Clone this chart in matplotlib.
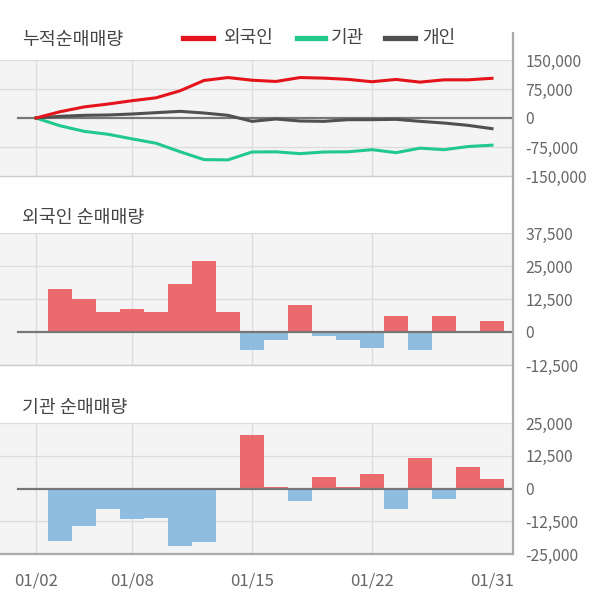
import matplotlib
matplotlib.use("Agg")
import matplotlib.pyplot as plt
from matplotlib.lines import Line2D
import numpy as np

plt.rcParams['font.family'] = ['Noto Sans CJK KR', 'DejaVu Sans']

dates = ['01/02', '01/03', '01/06', '01/07', '01/08', '01/09', '01/10', '01/13', '01/14', '01/15',
         '01/16', '01/17', '01/20', '01/21', '01/22', '01/23', '01/28', '01/29', '01/30', '01/31']
foreign = [0, 16200, 12400, 7500, 8600, 7500, 18100, 26800, 7500, -6900,
           -3200, 10100, -1500, -3200, -6100, 5900, -6900, 5900, 0, 4000]
institution = [0, -20100, -14300, -7700, -11800, -11300, -22000, -20400, -700, 20400,
               400, -4700, 4300, 500, 5500, -7700, 11600, -4000, 8200, 3600]
individual_cum = [0, 4300, 6900, 7800, 10300, 13800, 17200, 12900, 6900, -8600,
                  -2600, -7800, -8600, -4300, -4300, -3400, -8600, -13000, -19000, -27600]
tick_labels = ['01/02', '01/08', '01/15', '01/22', '01/31']
legend_names = ['외국인', '기관', '개인']

RED_LINE = '#e3141c'
GREEN_LINE = '#22c98c'
GRAY_LINE = '#505050'
RED_BAR = '#ea6a6e'
BLUE_BAR = '#8fbde0'
BG = '#f4f4f4'
GRID = '#dcdcdc'
TXT = '#444444'
TICK = '#666666'

W, H = 600, 604
fig = plt.figure(figsize=(6.0, 6.04), dpi=100)

x = np.arange(len(dates))
xlim = (-1.5, 19.875)
tick_idx = [dates.index(t) for t in tick_labels]
grid_idx = tick_idx[:-1]


def make_ax(top_px, bot_px):
    ax = fig.add_axes([0, 1 - bot_px / H, 513 / W, (bot_px - top_px) / H])
    ax.set_facecolor(BG)
    ax.set_xlim(*xlim)
    for s in ['left', 'right', 'top']:
        ax.spines[s].set_visible(False)
    ax.spines['bottom'].set_color('#cccccc')
    ax.spines['bottom'].set_linewidth(1.0)
    ax.yaxis.tick_right()
    ax.tick_params(axis='y', length=0, pad=9, labelsize=11.3, labelcolor=TICK)
    ax.tick_params(axis='x', length=0)
    ax.set_xticks(tick_idx)
    ax.set_xticklabels([])
    for gi in grid_idx:
        ax.axvline(gi, color=GRID, lw=0.9, zorder=0)
    return ax


def fmt(v):
    return f'{int(v):,}'

# Panel 1: cumulative
ax1 = make_ax(60, 176)
yt1 = [-150000, -75000, 0, 75000, 150000]
ax1.set_ylim(-150000, 150000)
ax1.set_yticks(yt1)
ax1.set_yticklabels([fmt(v) for v in yt1])
for v in [75000, -75000, 150000]:
    ax1.axhline(v, color=GRID, lw=0.9, zorder=0, xmin=0.0)
ax1.axhline(0, color='#777777', lw=1.6, xmin=18 / 513, zorder=1)
ax1.plot(x, np.cumsum(institution), color=GREEN_LINE, lw=2.2, zorder=3)
ax1.plot(x, individual_cum, color=GRAY_LINE, lw=2.2, zorder=3)
ax1.plot(x, np.cumsum(foreign), color=RED_LINE, lw=2.2, zorder=4)


def bar_panel(ax, vals, yt, lim):
    ax.set_ylim(*lim)
    ax.set_yticks(yt)
    ax.set_yticklabels([fmt(v) for v in yt])
    for v in yt:
        if v != 0:
            ax.axhline(v, color=GRID, lw=0.9, zorder=0)
    vals = np.array(vals)
    colors = [RED_BAR if v >= 0 else BLUE_BAR for v in vals]
    ax.bar(x[1:], vals[1:], width=0.96, color=colors[1:], zorder=2, linewidth=0)
    ax.axhline(0, color='#777777', lw=1.6, xmin=18 / 513, zorder=3)

ax2 = make_ax(233, 365)
bar_panel(ax2, foreign, [-12500, 0, 12500, 25000, 37500], (-12500, 37500))

ax3 = make_ax(423, 554)
bar_panel(ax3, institution, [-25000, -12500, 0, 12500, 25000], (-25000, 25000))
ax3.spines['bottom'].set_color('#aaaaaa')
ax3.spines['bottom'].set_linewidth(1.6)
ax3.set_xticklabels(tick_labels)
ax3.tick_params(axis='x', pad=13, labelsize=12, labelcolor=TICK)

# right axis line
fig.add_artist(Line2D([513 / W, 513 / W], [1 - 33 / H, 1 - 554 / H], color='#aaaaaa', lw=1.6,
                      transform=fig.transFigure))

# titles
fig.text(22 / W, 1 - 40 / H, '누적순매매량', fontsize=13.2, color=TXT, va='center', ha='left')
fig.text(22 / W, 1 - 218 / H, '외국인 순매매량', fontsize=13.2, color=TXT, va='center', ha='left')
fig.text(22 / W, 1 - 408 / H, '기관 순매매량', fontsize=13.2, color=TXT, va='center', ha='left')

# legend
leg_items = [(183, 213, 223, RED_LINE), (297, 325, 331, GREEN_LINE), (385, 415, 422, GRAY_LINE)]
for (x0, x1, tx, c), name in zip(leg_items, legend_names):
    fig.add_artist(Line2D([x0 / W, x1 / W], [1 - 38 / H, 1 - 38 / H], color=c, lw=3.8,
                          transform=fig.transFigure))
    fig.text(tx / W, 1 - 38 / H, name, fontsize=13, color=TXT, va='center', ha='left')

fig.savefig('out.png', dpi=100, facecolor='white')
